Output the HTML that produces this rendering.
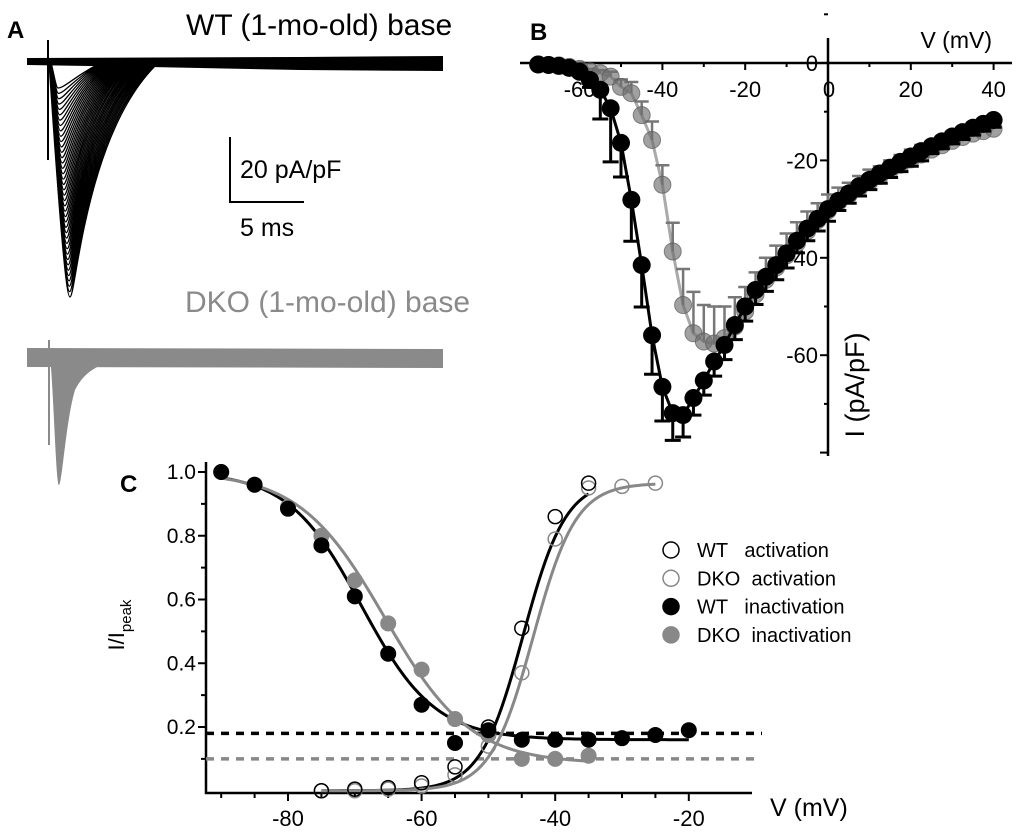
<!DOCTYPE html>
<html><head><meta charset="utf-8"><style>
body{margin:0;background:#fff}
svg{display:block;font-family:"Liberation Sans",Arial,sans-serif}
</style></head><body>
<svg id="fig" width="1020" height="834" viewBox="0 0 1020 834">
<text x="7" y="38" font-size="24" font-weight="bold">A</text>
<text x="530" y="40" font-size="24" font-weight="bold">B</text>
<text x="120" y="492" font-size="24" font-weight="bold">C</text>
<text x="186" y="35" font-size="30">WT (1-mo-old) base</text>
<text x="185" y="312" font-size="30" fill="#8a8a8a">DKO (1-mo-old) base</text>
<g id="traces"></g>
<g>
<path d="M230 137V202H304" fill="none" stroke="#000" stroke-width="2"/>
<text x="240" y="178" font-size="25">20 pA/pF</text>
<text x="240" y="236" font-size="25">5 ms</text>
</g>
<g id="panelB"></g>
<g id="panelC"></g>
</svg>
<script>
// ---------- Panel B data ----------
const ivVolt = [-70,-67.5,-65,-62.5,-60,-57.5,-55,-52.5,-50,-47.5,-45,-42.5,-40,-37.5,-35,-32.5,-30,-27.5,-25,-22.5,-20,-17.5,-15,-12.5,-10,-7.5,-5,-2.5,0,2.5,5,7.5,10,12.5,15,17.5,20,22.5,25,27.5,30,32.5,35,37.5,40];
const ivWT  = [-0.3,-0.4,-0.6,-1,-1.8,-3.5,-5.5,-9.3,-16.4,-28.1,-41.5,-55.9,-66.5,-71.9,-72.3,-68.8,-65.2,-61.3,-57.9,-53.8,-50,-46.6,-43.9,-41.5,-39.1,-36.5,-34,-32,-30,-28.3,-26.8,-25.3,-24,-22.7,-21.5,-20.3,-19.2,-18.1,-17.1,-16.1,-15.1,-14.2,-13.3,-12.5,-11.7];
const ivWTerr = [0.2,0.2,0.3,0.4,0.6,1.5,6,11,7,8.5,8.6,8,7,5.6,4.5,3.5,3,3,3,3,3,3,3,3,3,2.5,2.5,2.5,2.5,2,2,2,2,2,2,2,2,2,1.5,1.5,1.5,1.5,1.5,1.5,1.5];
const ivDKO = [-0.3,-0.4,-0.5,-0.8,-1.2,-1.7,-2.1,-2.8,-4.9,-6.2,-10.7,-15.8,-25,-38.7,-49.7,-55.5,-57.2,-57.6,-56.5,-54.1,-51,-47.5,-44.5,-42,-39.5,-37,-34.5,-32.3,-30.3,-28.6,-27.1,-25.7,-24.4,-23.2,-22,-20.9,-19.8,-18.8,-17.8,-16.9,-16,-15.2,-14.5,-14,-13.5];
const ivDKOerr = [0.2,0.2,0.3,0.3,0.4,0.5,0.6,1,1.5,2.3,2.8,3.8,4,5.9,7.4,8.5,7.5,7.6,6.5,6,5,4.5,4.5,4.5,4.5,4.3,4,3.5,3.3,3,2.5,2.5,2.5,2,2,2,2,2,1.5,1.5,1.5,1.5,1.5,1.5,1.5];
const ivXTicks = [-60,-40,-20,0,20,40];
const ivYTicks = [0,-20,-40,-60];
// ---------- Panel C data ----------
const cVinact = [-90,-85,-80,-75,-70,-65,-60,-55,-50,-45,-40,-35,-30,-25,-20];
const cWTinact = [1.0,0.96,0.885,0.77,0.61,0.43,0.27,0.15,0.19,0.16,0.16,0.16,0.165,0.175,0.19];
const cVdkoInact = [-90,-85,-80,-75,-70,-65,-60,-55,-50,-45,-40,-35];
const cDKOinact = [1.0,0.96,0.89,0.80,0.66,0.525,0.38,0.225,0.175,0.10,0.10,0.11];
const cVwtAct = [-75,-70,-65,-60,-55,-50,-45,-40,-35];
const cWTact = [0.0,0.005,0.01,0.025,0.075,0.2,0.51,0.86,0.965];
const cVdkoAct = [-75,-70,-65,-60,-55,-50,-45,-40,-35,-30,-25];
const cDKOact = [0.0,0.0,0.005,0.015,0.05,0.14,0.37,0.79,0.95,0.955,0.965];
const cXTicks = [-80,-60,-40,-20];
const cYTicks = [0.2,0.4,0.6,0.8,1.0];
const cRefLines = [0.18,0.10];

const NS="http://www.w3.org/2000/svg";
function mk(parent,tag,attrs,text){const e=document.createElementNS(NS,tag);for(const k in attrs)e.setAttribute(k,attrs[k]);if(text!==undefined)e.textContent=text;parent.appendChild(e);return e;}

// ---------- Panel A traces ----------
(function(){
  const g=document.getElementById('traces');
  let d='';
  mk(g,'path',{d:'M27 58L300 57L443 56L443 71L300 70L150 67L27 65Z',fill:'#000'});
  mk(g,'path',{d:'M48 40V160',stroke:'#000','stroke-width':2});
  for(let i=0;i<40;i++){
    const t=i/39;
    const tx=58+t*12, ty=88+t*(209);
    const rec=95+t*60;
    d+=`M49 62 C${tx-8} ${ty-40} ${tx-3} ${ty} ${tx} ${ty} C${tx+6} ${ty} ${tx+15} ${ty-150*t-10} ${rec} 66 L160 66 `;
  }
  const p=mk(g,'path',{d:d,fill:'none',stroke:'#000','stroke-width':1.3});
  
  
  mk(g,'path',{d:'M27 348L443 349L443 368L27 367Z',fill:'#8a8a8a'});
  mk(g,'path',{d:'M49 340V445',stroke:'#8a8a8a','stroke-width':2});
  mk(g,'path',{d:'M50 355 C54 400 56 485 59 485 C62 485 66 420 75 390 C85 370 100 365 115 360 L60 360Z',fill:'#8a8a8a'});
})();

// ---------- Panel B ----------
(function(){
  const g=document.getElementById('panelB');
  const X=v=>828+v*4.14, Y=i=>63-i*4.87;
  mk(g,'line',{x1:520,y1:63,x2:1012,y2:63,stroke:'#000','stroke-width':2.5});
  mk(g,'line',{x1:828,y1:38,x2:828,y2:456,stroke:'#000','stroke-width':2.5});
  for(let v=-70;v<=40;v+=10){mk(g,'line',{x1:X(v),y1:63,x2:X(v),y2:v%20==0?70:67,stroke:'#000','stroke-width':2});}
  for(let i=10;i>=-80;i-=10){mk(g,'line',{x1:828,y1:Y(i),x2:i%20==0?820:824,y2:Y(i),stroke:'#000','stroke-width':2});}
  ivXTicks.forEach(v=>{if(v!==0){mk(g,'text',{x:X(v),y:97,'font-size':22,'text-anchor':'middle'},String(v));}});
  mk(g,'text',{x:829,y:97,'font-size':22,'text-anchor':'middle'},'0');
  ivYTicks.forEach(i=>{mk(g,'text',{x:818,y:Y(i)+8,'font-size':22,'text-anchor':'end'},String(i));});
  mk(g,'text',{x:992,y:48,'font-size':23,'text-anchor':'end'},'V (mV)');
  mk(g,'text',{x:0,y:0,'font-size':27,'text-anchor':'middle',transform:'translate(864 385) rotate(-90)'},'I (pA/pF)');
  const dkoLine=ivVolt.map((v,k)=>`${k?'L':'M'}${X(v)} ${Y(ivDKO[k])}`).join('');
  mk(g,'path',{d:dkoLine,fill:'none',stroke:'#aaa','stroke-width':3});
  ivVolt.forEach((v,k)=>{const y2=Y(ivDKO[k]+ivDKOerr[k]);mk(g,'path',{d:`M${X(v)} ${Y(ivDKO[k])}V${y2}M${X(v)-7} ${y2}H${X(v)+7}`,stroke:'#777','stroke-width':2.5});});
  ivVolt.forEach((v,k)=>{const c=mk(g,'circle',{cx:X(v),cy:Y(ivDKO[k]),r:8.5,fill:'rgba(110,110,110,0.65)',stroke:'rgba(90,90,90,0.7)','stroke-width':1});
    
    });
  const wtLine=ivVolt.map((v,k)=>`${k?'L':'M'}${X(v)} ${Y(ivWT[k])}`).join('');
  mk(g,'path',{d:wtLine,fill:'none',stroke:'#000','stroke-width':3});
  ivVolt.forEach((v,k)=>{const y2=Y(ivWT[k]-ivWTerr[k]);mk(g,'path',{d:`M${X(v)} ${Y(ivWT[k])}V${y2}M${X(v)-8} ${y2}H${X(v)+8}`,stroke:'#000','stroke-width':3});});
  ivVolt.forEach((v,k)=>{const c=mk(g,'circle',{cx:X(v),cy:Y(ivWT[k]),r:9,fill:'#000'});
    
    });
})();

// ---------- Panel C ----------
(function(){
  const g=document.getElementById('panelC');
  const X=v=>288+(v+80)*6.68, Y=f=>790.75-f*318.75;
  mk(g,'path',{d:'M206 462V793H752',fill:'none',stroke:'#000','stroke-width':2.5});
  for(let v=-90;v<=-20;v+=5){mk(g,'line',{x1:X(v),y1:793,x2:X(v),y2:v%20==0?801:798,stroke:'#000','stroke-width':2});}
  for(let f=0.1;f<=1.01;f+=0.1){mk(g,'line',{x1:206,y1:Y(f),x2:Math.round(f*10)%2==0?198:201,y2:Y(f),stroke:'#000','stroke-width':2});}
  cXTicks.forEach(v=>mk(g,'text',{x:X(v),y:826,'font-size':22,'text-anchor':'middle'},String(v)));
  cYTicks.forEach(f=>mk(g,'text',{x:196,y:Y(f)+7,'font-size':21,'text-anchor':'end'},f.toFixed(1)));
  mk(g,'text',{x:770,y:816,'font-size':25},'V (mV)');
  const yl=mk(g,'text',{x:0,y:0,'font-size':22,'text-anchor':'middle',transform:'translate(124 625) rotate(-90)'});
  yl.innerHTML='I/I<tspan font-size="15" dy="7">peak</tspan>';
  mk(g,'line',{x1:206,y1:Y(cRefLines[0]),x2:762,y2:Y(cRefLines[0]),stroke:'#000','stroke-width':3.5,'stroke-dasharray':'8 7'});
  mk(g,'line',{x1:206,y1:Y(cRefLines[1]),x2:760,y2:Y(cRefLines[1]),stroke:'#888','stroke-width':3.5,'stroke-dasharray':'8 7'});
  const boltz=(v,h,k,lo,hi)=>lo+(hi-lo)/(1+Math.exp((v-h)/k));
  function curve(v0,v1,f,col){let d='';for(let v=v0;v<=v1+0.01;v+=0.5)d+=(d?'L':'M')+X(v)+' '+Y(f(v));mk(g,'path',{d:d,fill:'none',stroke:col,'stroke-width':3});}
  curve(-90,-20,v=>boltz(v,-69,5.5,0.16,1.0),'#000');
  curve(-90,-35,v=>boltz(v,-65.5,6.4,0.085,1.0),'#888');
  curve(-75,-35,v=>boltz(v,-44.8,-3.2,0.0,0.975),'#000');
  curve(-75,-25,v=>boltz(v,-43.3,-3.2,0.0,0.965),'#888');
  cVdkoInact.forEach((v,k)=>{const c=mk(g,'circle',{cx:X(v),cy:Y(cDKOinact[k]),r:8,fill:'#888'});
    
    });
  cVinact.forEach((v,k)=>{const c=mk(g,'circle',{cx:X(v),cy:Y(cWTinact[k]),r:8,fill:'#000'});
    
    });
  cVdkoAct.forEach((v,k)=>{const c=mk(g,'circle',{cx:X(v),cy:Y(cDKOact[k]),r:7,fill:'none',stroke:'#888','stroke-width':1.5});
    
    });
  cVwtAct.forEach((v,k)=>{const c=mk(g,'circle',{cx:X(v),cy:Y(cWTact[k]),r:7,fill:'none',stroke:'#000','stroke-width':1.5});
    
    });
  const leg=mk(g,'g',{});
  
  
  const items=[['WT   activation','none','#000'],['DKO  activation','none','#888'],['WT   inactivation','#000','#000'],['DKO  inactivation','#888','#888']];
  items.forEach((it,k)=>{const y=550+k*28.3;
    mk(leg,'circle',{cx:671,cy:y,r:8,fill:it[1],stroke:it[2],'stroke-width':1.5});
    const t=mk(leg,'text',{x:697,y:y+7,'font-size':20},it[0]);
    t.setAttribute('style','white-space:pre');
  });
})();
</script>
</body></html>
